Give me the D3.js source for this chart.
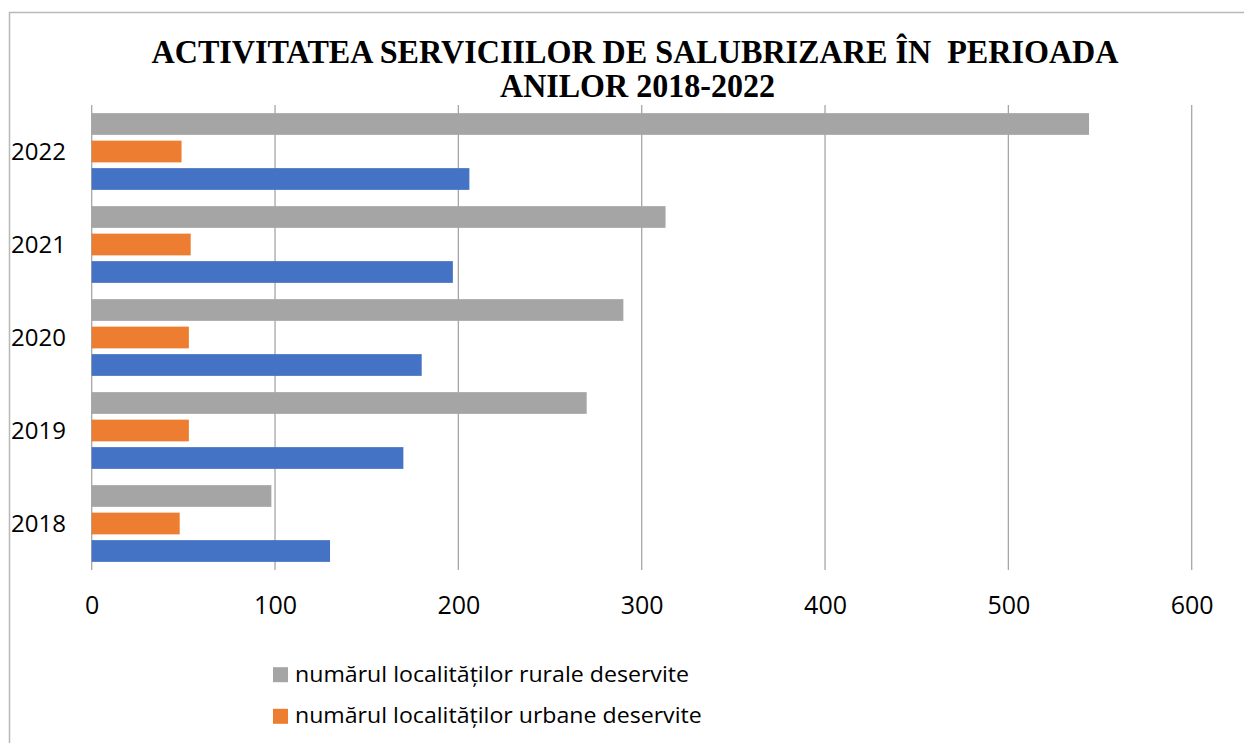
<!DOCTYPE html>
<html>
<head>
<meta charset="utf-8">
<script src="https://cdn.jsdelivr.net/npm/d3@7"></script>
<style>
  html, body { margin: 0; padding: 0; background: #fff; }
  svg { display: block; }
</style>
</head>
<body>
<svg id="chart" width="1244" height="743"></svg>
<script>
// ---- data ----
const years = ["2022", "2021", "2020", "2019", "2018"];
const rural = [544, 313, 290, 270, 98];
const urban = [49, 54, 53, 53, 48];
const blueSeries = [206, 197, 180, 170, 130];
const xTicks = [0, 100, 200, 300, 400, 500, 600];
const titleLines = ["ACTIVITATEA SERVICIILOR DE SALUBRIZARE ÎN  PERIOADA", "ANILOR 2018-2022"];
const legendNames = ["numărul localităților rurale deservite", "numărul localităților urbane deservite"];

const colors = ["#A5A5A5", "#ED7D31", "#4472C4"];
const seriesValues = [rural, urban, blueSeries];

const svg = d3.select("#chart");

// frame
svg.append("rect")
  .attr("x", 9.5).attr("y", 12.5)
  .attr("width", 1300).attr("height", 800)
  .attr("fill", "none").attr("stroke", "#b8b8b8").attr("stroke-width", 1.5);

// title
const titleY = [63, 97];
const titleW = [967, 275];
const titleX = [635, 637.5];
titleLines.forEach((t, i) => {
  svg.append("text")
    .attr("x", titleX[i]).attr("y", titleY[i])
    .attr("text-anchor", "middle")
    .attr("font-family", "Liberation Serif, Times New Roman, serif")
    .attr("font-weight", "bold")
    .attr("font-size", 34)
    .attr("textLength", titleW[i])
    .attr("lengthAdjust", "spacingAndGlyphs")
    .style("white-space", "pre")
    .attr("fill", "#000")
    .text(t);
});

// scales
const x = d3.scaleLinear().domain([0, 600]).range([91.7, 1191.7]);
const y = d3.scaleBand().domain(years).range([105, 570]).paddingInner(0.175).paddingOuter(0.0875);
const yInner = d3.scaleBand().domain([0, 1, 2]).range([0, y.bandwidth()]).paddingInner(0.21).paddingOuter(0);

// gridlines
svg.append("g").selectAll("line").data(xTicks).join("line")
  .attr("x1", d => x(d)).attr("x2", d => x(d))
  .attr("y1", 105).attr("y2", 570)
  .attr("stroke", "#a6a6a6").attr("stroke-width", 1.3);

// bars
seriesValues.forEach((vals, si) => {
  svg.append("g").selectAll("rect").data(years).join("rect")
    .attr("x", x(0))
    .attr("y", d => y(d) + yInner(si))
    .attr("width", (d, i) => x(vals[i]) - x(0))
    .attr("height", yInner.bandwidth())
    .attr("fill", colors[si]);
});

// x axis labels
const xAxis = d3.axisBottom(x).tickValues(xTicks).tickSize(0).tickPadding(0);
const gx = svg.append("g").attr("transform", "translate(0,596)").call(xAxis);
gx.select(".domain").remove();
gx.selectAll("text")
  .attr("font-family", "Open Sans, sans-serif")
  .attr("font-size", 25)
  .attr("fill", "#000")
  .attr("dy", "0.71em");

// y axis labels
const yAxis = d3.axisLeft(y).tickSize(0).tickPadding(0);
const gy = svg.append("g").attr("transform", "translate(66,0)").call(yAxis);
gy.select(".domain").remove();
gy.selectAll("text")
  .attr("font-family", "Open Sans, sans-serif")
  .attr("font-size", 24)
  .attr("fill", "#000")
  .attr("dy", "0.36em");

// legend
const legY = [681.7, 723.3];
const legW = [394, 406.7];
legendNames.forEach((n, i) => {
  svg.append("rect")
    .attr("x", 273).attr("y", legY[i] - 14.5)
    .attr("width", 15).attr("height", 15)
    .attr("fill", colors[i]);
  svg.append("text")
    .attr("x", 295).attr("y", legY[i])
    .attr("font-family", "Open Sans, sans-serif")
    .attr("font-size", 22.5)
    .attr("textLength", legW[i])
    .attr("lengthAdjust", "spacingAndGlyphs")
    .attr("fill", "#000")
    .text(n);
});
</script>
</body>
</html>
